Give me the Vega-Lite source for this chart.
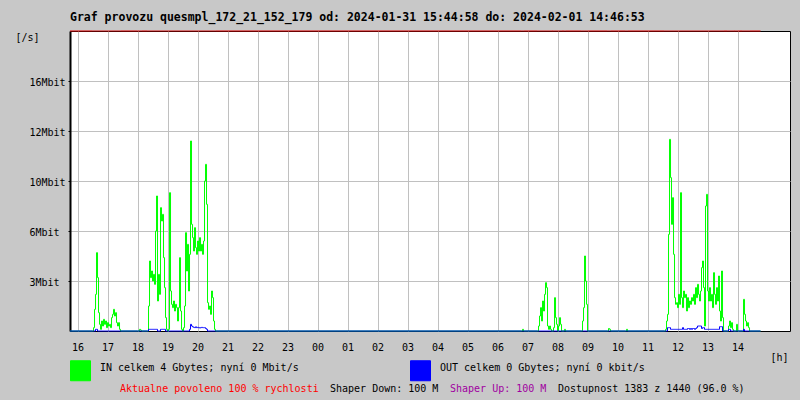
{
  "$schema": "https://vega.github.io/schema/vega-lite/v6.json",
  "width": 720,
  "height": 300,
  "autosize": "none",
  "padding": {"left": 70, "top": 31, "right": 10, "bottom": 69},
  "background": "#c8c8c8",
  "config": {"view": {"stroke": "black", "strokeWidth": 1, "fill": "white"}, "font": "DejaVu Sans Mono"},
  "title": {"text": "Graf provozu quesmpl_172_21_152_179 od: 2024-01-31 15:44:58 do: 2024-02-01 14:46:53", "anchor": "start", "frame": "group", "font": "DejaVu Sans Mono", "fontSize": 11.5, "fontWeight": "bold", "color": "black", "baseline": "alphabetic", "offset": 9, "dy": 12},
  "datasets": {
    "traffic": [
      {"t":"2024-01-31 15:45","IN":0,"OUT":0},
      {"t":"2024-01-31 16:30","IN":0,"OUT":0},
      {"t":"2024-01-31 16:32","IN":0.2,"OUT":0},
      {"t":"2024-01-31 16:34","IN":1.3,"OUT":0},
      {"t":"2024-01-31 16:36","IN":2.2,"OUT":0.1},
      {"t":"2024-01-31 16:38","IN":4.7,"OUT":0.1},
      {"t":"2024-01-31 16:40","IN":3.2,"OUT":0},
      {"t":"2024-01-31 16:42","IN":1.1,"OUT":0},
      {"t":"2024-01-31 16:44","IN":0.4,"OUT":0},
      {"t":"2024-01-31 16:46","IN":0.1,"OUT":0},
      {"t":"2024-01-31 16:48","IN":0.6,"OUT":0},
      {"t":"2024-01-31 16:50","IN":0.3,"OUT":0},
      {"t":"2024-01-31 16:52","IN":0.7,"OUT":0},
      {"t":"2024-01-31 16:54","IN":0.4,"OUT":0},
      {"t":"2024-01-31 16:56","IN":0.6,"OUT":0},
      {"t":"2024-01-31 16:58","IN":0.2,"OUT":0},
      {"t":"2024-01-31 17:00","IN":0.5,"OUT":0},
      {"t":"2024-01-31 17:02","IN":0.3,"OUT":0},
      {"t":"2024-01-31 17:04","IN":0.4,"OUT":0},
      {"t":"2024-01-31 17:06","IN":0.2,"OUT":0},
      {"t":"2024-01-31 17:08","IN":0.8,"OUT":0},
      {"t":"2024-01-31 17:10","IN":1.0,"OUT":0},
      {"t":"2024-01-31 17:12","IN":1.3,"OUT":0},
      {"t":"2024-01-31 17:14","IN":0.9,"OUT":0},
      {"t":"2024-01-31 17:16","IN":1.1,"OUT":0},
      {"t":"2024-01-31 17:18","IN":0.5,"OUT":0},
      {"t":"2024-01-31 17:20","IN":0.3,"OUT":0},
      {"t":"2024-01-31 17:22","IN":0.5,"OUT":0},
      {"t":"2024-01-31 17:24","IN":0.1,"OUT":0},
      {"t":"2024-01-31 17:26","IN":0,"OUT":0},
      {"t":"2024-01-31 18:00","IN":0,"OUT":0},
      {"t":"2024-01-31 18:04","IN":0.1,"OUT":0},
      {"t":"2024-01-31 18:06","IN":0.05,"OUT":0},
      {"t":"2024-01-31 18:08","IN":0,"OUT":0},
      {"t":"2024-01-31 18:20","IN":0,"OUT":0},
      {"t":"2024-01-31 18:22","IN":1.5,"OUT":0.1},
      {"t":"2024-01-31 18:24","IN":4.2,"OUT":0.1},
      {"t":"2024-01-31 18:26","IN":3.2,"OUT":0.1},
      {"t":"2024-01-31 18:28","IN":3.6,"OUT":0.1},
      {"t":"2024-01-31 18:30","IN":3.0,"OUT":0.1},
      {"t":"2024-01-31 18:32","IN":3.4,"OUT":0.1},
      {"t":"2024-01-31 18:34","IN":2.8,"OUT":0.1},
      {"t":"2024-01-31 18:36","IN":6.0,"OUT":0.1},
      {"t":"2024-01-31 18:38","IN":8.1,"OUT":0.1},
      {"t":"2024-01-31 18:40","IN":1.8,"OUT":0},
      {"t":"2024-01-31 18:42","IN":3.4,"OUT":0},
      {"t":"2024-01-31 18:44","IN":2.2,"OUT":0},
      {"t":"2024-01-31 18:46","IN":7.4,"OUT":0.1},
      {"t":"2024-01-31 18:48","IN":6.6,"OUT":0.1},
      {"t":"2024-01-31 18:50","IN":7.0,"OUT":0.1},
      {"t":"2024-01-31 18:52","IN":4.4,"OUT":0.1},
      {"t":"2024-01-31 18:54","IN":2.6,"OUT":0.1},
      {"t":"2024-01-31 18:56","IN":0.8,"OUT":0},
      {"t":"2024-01-31 18:58","IN":0.1,"OUT":0},
      {"t":"2024-01-31 19:00","IN":0,"OUT":0},
      {"t":"2024-01-31 19:02","IN":0.1,"OUT":0},
      {"t":"2024-01-31 19:04","IN":8.3,"OUT":0},
      {"t":"2024-01-31 19:06","IN":2.4,"OUT":0},
      {"t":"2024-01-31 19:08","IN":1.6,"OUT":0},
      {"t":"2024-01-31 19:10","IN":1.4,"OUT":0},
      {"t":"2024-01-31 19:12","IN":1.8,"OUT":0},
      {"t":"2024-01-31 19:14","IN":1.2,"OUT":0},
      {"t":"2024-01-31 19:16","IN":1.6,"OUT":0},
      {"t":"2024-01-31 19:18","IN":1.4,"OUT":0},
      {"t":"2024-01-31 19:20","IN":0.6,"OUT":0},
      {"t":"2024-01-31 19:22","IN":1.4,"OUT":0},
      {"t":"2024-01-31 19:24","IN":4.4,"OUT":0},
      {"t":"2024-01-31 19:26","IN":1.2,"OUT":0},
      {"t":"2024-01-31 19:28","IN":0.1,"OUT":0},
      {"t":"2024-01-31 19:30","IN":0,"OUT":0},
      {"t":"2024-01-31 19:32","IN":0.2,"OUT":0},
      {"t":"2024-01-31 19:34","IN":1.5,"OUT":0},
      {"t":"2024-01-31 19:36","IN":5.9,"OUT":0},
      {"t":"2024-01-31 19:38","IN":3.6,"OUT":0},
      {"t":"2024-01-31 19:40","IN":5.2,"OUT":0},
      {"t":"2024-01-31 19:42","IN":2.4,"OUT":0},
      {"t":"2024-01-31 19:44","IN":4.6,"OUT":0.1},
      {"t":"2024-01-31 19:46","IN":11.4,"OUT":0.4},
      {"t":"2024-01-31 19:48","IN":6.4,"OUT":0.3},
      {"t":"2024-01-31 19:50","IN":5.6,"OUT":0.25},
      {"t":"2024-01-31 19:52","IN":4.8,"OUT":0.22},
      {"t":"2024-01-31 19:54","IN":6.2,"OUT":0.2},
      {"t":"2024-01-31 19:56","IN":5.0,"OUT":0.25},
      {"t":"2024-01-31 19:58","IN":4.6,"OUT":0.2},
      {"t":"2024-01-31 20:00","IN":5.4,"OUT":0.22},
      {"t":"2024-01-31 20:02","IN":4.8,"OUT":0.2},
      {"t":"2024-01-31 20:04","IN":5.6,"OUT":0.18},
      {"t":"2024-01-31 20:06","IN":4.8,"OUT":0.2},
      {"t":"2024-01-31 20:08","IN":5.2,"OUT":0.22},
      {"t":"2024-01-31 20:10","IN":4.6,"OUT":0.2},
      {"t":"2024-01-31 20:12","IN":5.4,"OUT":0.2},
      {"t":"2024-01-31 20:14","IN":9.0,"OUT":0.2},
      {"t":"2024-01-31 20:16","IN":10.0,"OUT":0.15},
      {"t":"2024-01-31 20:18","IN":7.6,"OUT":0.1},
      {"t":"2024-01-31 20:20","IN":1.7,"OUT":0},
      {"t":"2024-01-31 20:22","IN":1.3,"OUT":0},
      {"t":"2024-01-31 20:24","IN":1.5,"OUT":0},
      {"t":"2024-01-31 20:26","IN":1.0,"OUT":0},
      {"t":"2024-01-31 20:28","IN":2.4,"OUT":0},
      {"t":"2024-01-31 20:30","IN":2.0,"OUT":0},
      {"t":"2024-01-31 20:32","IN":0.6,"OUT":0},
      {"t":"2024-01-31 20:34","IN":0.1,"OUT":0},
      {"t":"2024-01-31 20:36","IN":0,"OUT":0},
      {"t":"2024-02-01 06:48","IN":0,"OUT":0},
      {"t":"2024-02-01 06:50","IN":0.1,"OUT":0},
      {"t":"2024-02-01 06:52","IN":0,"OUT":0},
      {"t":"2024-02-01 07:20","IN":0,"OUT":0},
      {"t":"2024-02-01 07:22","IN":0.3,"OUT":0},
      {"t":"2024-02-01 07:24","IN":0.9,"OUT":0},
      {"t":"2024-02-01 07:26","IN":1.4,"OUT":0},
      {"t":"2024-02-01 07:28","IN":0.6,"OUT":0},
      {"t":"2024-02-01 07:30","IN":1.8,"OUT":0},
      {"t":"2024-02-01 07:32","IN":1.2,"OUT":0},
      {"t":"2024-02-01 07:34","IN":2.2,"OUT":0},
      {"t":"2024-02-01 07:36","IN":2.9,"OUT":0},
      {"t":"2024-02-01 07:38","IN":2.6,"OUT":0},
      {"t":"2024-02-01 07:40","IN":0.3,"OUT":0},
      {"t":"2024-02-01 07:42","IN":0.1,"OUT":0},
      {"t":"2024-02-01 07:44","IN":0.3,"OUT":0},
      {"t":"2024-02-01 07:46","IN":0.1,"OUT":0},
      {"t":"2024-02-01 07:48","IN":0,"OUT":0},
      {"t":"2024-02-01 07:52","IN":0.2,"OUT":0},
      {"t":"2024-02-01 07:54","IN":2.0,"OUT":0},
      {"t":"2024-02-01 07:56","IN":0.8,"OUT":0},
      {"t":"2024-02-01 07:58","IN":0.4,"OUT":0},
      {"t":"2024-02-01 08:00","IN":0,"OUT":0},
      {"t":"2024-02-01 08:02","IN":0.3,"OUT":0},
      {"t":"2024-02-01 08:04","IN":0.8,"OUT":0},
      {"t":"2024-02-01 08:06","IN":0.4,"OUT":0},
      {"t":"2024-02-01 08:08","IN":0,"OUT":0},
      {"t":"2024-02-01 08:14","IN":0.1,"OUT":0},
      {"t":"2024-02-01 08:16","IN":0,"OUT":0},
      {"t":"2024-02-01 08:48","IN":0,"OUT":0},
      {"t":"2024-02-01 08:50","IN":0.6,"OUT":0},
      {"t":"2024-02-01 08:52","IN":1.4,"OUT":0},
      {"t":"2024-02-01 08:54","IN":4.5,"OUT":0},
      {"t":"2024-02-01 08:56","IN":3.0,"OUT":0},
      {"t":"2024-02-01 08:58","IN":1.6,"OUT":0},
      {"t":"2024-02-01 09:00","IN":0,"OUT":0},
      {"t":"2024-02-01 09:40","IN":0,"OUT":0},
      {"t":"2024-02-01 09:42","IN":0.15,"OUT":0},
      {"t":"2024-02-01 09:44","IN":0.1,"OUT":0},
      {"t":"2024-02-01 09:46","IN":0,"OUT":0},
      {"t":"2024-02-01 10:16","IN":0,"OUT":0},
      {"t":"2024-02-01 10:18","IN":0.1,"OUT":0},
      {"t":"2024-02-01 10:20","IN":0,"OUT":0},
      {"t":"2024-02-01 11:34","IN":0,"OUT":0},
      {"t":"2024-02-01 11:36","IN":0.1,"OUT":0},
      {"t":"2024-02-01 11:38","IN":0.6,"OUT":0},
      {"t":"2024-02-01 11:40","IN":1.0,"OUT":0.2},
      {"t":"2024-02-01 11:42","IN":5.8,"OUT":0.2},
      {"t":"2024-02-01 11:44","IN":11.5,"OUT":0.2},
      {"t":"2024-02-01 11:46","IN":9.2,"OUT":0.1},
      {"t":"2024-02-01 11:48","IN":6.4,"OUT":0.1},
      {"t":"2024-02-01 11:50","IN":8.0,"OUT":0.1},
      {"t":"2024-02-01 11:52","IN":4.6,"OUT":0.1},
      {"t":"2024-02-01 11:54","IN":2.0,"OUT":0.1},
      {"t":"2024-02-01 11:56","IN":1.6,"OUT":0.1},
      {"t":"2024-02-01 11:58","IN":1.7,"OUT":0.1},
      {"t":"2024-02-01 12:00","IN":1.4,"OUT":0.1},
      {"t":"2024-02-01 12:02","IN":2.2,"OUT":0.1},
      {"t":"2024-02-01 12:04","IN":1.6,"OUT":0.1},
      {"t":"2024-02-01 12:06","IN":8.3,"OUT":0.1},
      {"t":"2024-02-01 12:08","IN":2.0,"OUT":0.1},
      {"t":"2024-02-01 12:10","IN":1.4,"OUT":0.2},
      {"t":"2024-02-01 12:12","IN":2.4,"OUT":0.1},
      {"t":"2024-02-01 12:14","IN":2.0,"OUT":0.1},
      {"t":"2024-02-01 12:16","IN":2.2,"OUT":0.1},
      {"t":"2024-02-01 12:18","IN":1.2,"OUT":0.1},
      {"t":"2024-02-01 12:20","IN":2.0,"OUT":0.15},
      {"t":"2024-02-01 12:22","IN":1.4,"OUT":0.15},
      {"t":"2024-02-01 12:24","IN":1.8,"OUT":0.1},
      {"t":"2024-02-01 12:26","IN":1.6,"OUT":0.15},
      {"t":"2024-02-01 12:28","IN":2.0,"OUT":0.1},
      {"t":"2024-02-01 12:30","IN":1.8,"OUT":0.15},
      {"t":"2024-02-01 12:32","IN":2.2,"OUT":0.15},
      {"t":"2024-02-01 12:34","IN":1.6,"OUT":0.1},
      {"t":"2024-02-01 12:36","IN":2.6,"OUT":0.15},
      {"t":"2024-02-01 12:38","IN":2.0,"OUT":0.2},
      {"t":"2024-02-01 12:40","IN":2.8,"OUT":0.3},
      {"t":"2024-02-01 12:42","IN":2.2,"OUT":0.3},
      {"t":"2024-02-01 12:44","IN":1.8,"OUT":0.3},
      {"t":"2024-02-01 12:46","IN":2.4,"OUT":0.3},
      {"t":"2024-02-01 12:48","IN":3.8,"OUT":0.15},
      {"t":"2024-02-01 12:50","IN":4.2,"OUT":0.2},
      {"t":"2024-02-01 12:52","IN":2.6,"OUT":0.2},
      {"t":"2024-02-01 12:54","IN":0.3,"OUT":0.1},
      {"t":"2024-02-01 12:56","IN":7.5,"OUT":0.1},
      {"t":"2024-02-01 12:58","IN":8.2,"OUT":0.1},
      {"t":"2024-02-01 13:00","IN":2.4,"OUT":0.1},
      {"t":"2024-02-01 13:02","IN":1.8,"OUT":0.1},
      {"t":"2024-02-01 13:04","IN":2.6,"OUT":0.1},
      {"t":"2024-02-01 13:06","IN":1.8,"OUT":0.1},
      {"t":"2024-02-01 13:08","IN":2.2,"OUT":0.1},
      {"t":"2024-02-01 13:10","IN":1.4,"OUT":0.1},
      {"t":"2024-02-01 13:12","IN":3.5,"OUT":0.1},
      {"t":"2024-02-01 13:14","IN":2.2,"OUT":0.1},
      {"t":"2024-02-01 13:16","IN":1.6,"OUT":0.1},
      {"t":"2024-02-01 13:18","IN":2.6,"OUT":0.1},
      {"t":"2024-02-01 13:20","IN":1.8,"OUT":0.1},
      {"t":"2024-02-01 13:22","IN":3.3,"OUT":0.1},
      {"t":"2024-02-01 13:24","IN":1.2,"OUT":0.26},
      {"t":"2024-02-01 13:26","IN":0.6,"OUT":0.26},
      {"t":"2024-02-01 13:28","IN":3.6,"OUT":0.26},
      {"t":"2024-02-01 13:30","IN":0.8,"OUT":0},
      {"t":"2024-02-01 13:32","IN":0,"OUT":0},
      {"t":"2024-02-01 13:40","IN":0,"OUT":0},
      {"t":"2024-02-01 13:42","IN":0.3,"OUT":0.1},
      {"t":"2024-02-01 13:44","IN":0.6,"OUT":0.1},
      {"t":"2024-02-01 13:46","IN":0.2,"OUT":0},
      {"t":"2024-02-01 13:48","IN":0.5,"OUT":0},
      {"t":"2024-02-01 13:50","IN":0.1,"OUT":0},
      {"t":"2024-02-01 13:52","IN":0,"OUT":0},
      {"t":"2024-02-01 13:56","IN":0,"OUT":0},
      {"t":"2024-02-01 13:58","IN":0.4,"OUT":0},
      {"t":"2024-02-01 14:00","IN":0,"OUT":0},
      {"t":"2024-02-01 14:10","IN":0,"OUT":0},
      {"t":"2024-02-01 14:12","IN":1.9,"OUT":0.1},
      {"t":"2024-02-01 14:14","IN":1.0,"OUT":0},
      {"t":"2024-02-01 14:16","IN":0.6,"OUT":0},
      {"t":"2024-02-01 14:18","IN":0.3,"OUT":0},
      {"t":"2024-02-01 14:20","IN":0.5,"OUT":0},
      {"t":"2024-02-01 14:22","IN":0.2,"OUT":0},
      {"t":"2024-02-01 14:24","IN":0,"OUT":0},
      {"t":"2024-02-01 14:46","IN":0,"OUT":0}
    ],
    "series": [{"s": "IN"}, {"s": "OUT"}],
    "notes": [
      {"note": "Aktualne povoleno 100 % rychlosti"},
      {"note": "Shaper Down: 100 M"},
      {"note": "Shaper Up: 100 M"},
      {"note": "Dostupnost 1383 z 1440 (96.0 %)"}
    ]
  },
  "layer": [
    {
      "data": {"name": "series"},
      "mark": {"type": "square", "size": 0, "strokeWidth": 0, "opacity": 1},
      "encoding": {
        "fill": {"field": "s", "type": "nominal",
          "scale": {"domain": ["IN", "OUT"], "range": ["#00ff00", "#0000ff"]},
          "legend": {"orient": "none", "legendX": 0, "legendY": 329, "direction": "horizontal", "title": null, "padding": 0,
            "symbolType": "square", "symbolSize": 400, "symbolStrokeColor": "black", "symbolStrokeWidth": 1, "symbolOpacity": 1,
            "labelFont": "DejaVu Sans Mono", "labelFontSize": 10, "labelColor": "black", "labelLimit": 400, "labelOffset": 9,
            "labelBaseline": "alphabetic", "columnPadding": 109,
            "labelExpr": "datum.label == 'IN' ? 'IN celkem 4 Gbytes; nyní 0 Mbit/s' : 'OUT celkem 0 Gbytes; nyní 0 kbit/s'"}
        }
      }
    },
    {
      "data": {"name": "notes"},
      "mark": {"type": "point", "size": 0, "strokeWidth": 0},
      "encoding": {
        "shape": {"field": "note", "type": "nominal",
          "scale": {"domain": ["Aktualne povoleno 100 % rychlosti", "Shaper Down: 100 M", "Shaper Up: 100 M", "Dostupnost 1383 z 1440 (96.0 %)"]},
          "legend": {"orient": "none", "legendX": 40, "legendY": 353, "direction": "horizontal", "title": null, "padding": 0,
            "symbolSize": 0, "symbolOpacity": 0, "symbolStrokeWidth": 0, "labelOffset": 0, "columnPadding": 1,
            "labelFont": "DejaVu Sans Mono", "labelFontSize": 10, "labelLimit": 400,
            "labelColor": {"expr": "datum.label == 'Aktualne povoleno 100 % rychlosti' ? '#ff0000' : datum.label == 'Shaper Up: 100 M' ? '#a000a0' : '#000000'"}}
        }
      }
    },
    {
      "data": {"name": "traffic"},
      "transform": [{"fold": ["IN", "OUT"], "as": ["key", "value"]}],
      "mark": {"type": "line", "interpolate": "step-after", "strokeWidth": 1},
      "encoding": {
        "x": {"field": "t", "type": "temporal",
          "scale": {"domain": [{"year": 2024, "month": 1, "date": 31, "hours": 15, "minutes": 44, "seconds": 58}, {"year": 2024, "month": 2, "date": 1, "hours": 15, "minutes": 44, "seconds": 58}]},
          "axis": {
            "tickCount": 40,
            "values": [
              {"year": 2024, "month": 1, "date": 31, "hours": 16}, {"year": 2024, "month": 1, "date": 31, "hours": 17},
              {"year": 2024, "month": 1, "date": 31, "hours": 18}, {"year": 2024, "month": 1, "date": 31, "hours": 19},
              {"year": 2024, "month": 1, "date": 31, "hours": 20}, {"year": 2024, "month": 1, "date": 31, "hours": 21},
              {"year": 2024, "month": 1, "date": 31, "hours": 22}, {"year": 2024, "month": 1, "date": 31, "hours": 23},
              {"year": 2024, "month": 2, "date": 1, "hours": 0}, {"year": 2024, "month": 2, "date": 1, "hours": 1},
              {"year": 2024, "month": 2, "date": 1, "hours": 2}, {"year": 2024, "month": 2, "date": 1, "hours": 3},
              {"year": 2024, "month": 2, "date": 1, "hours": 4}, {"year": 2024, "month": 2, "date": 1, "hours": 5},
              {"year": 2024, "month": 2, "date": 1, "hours": 6}, {"year": 2024, "month": 2, "date": 1, "hours": 7},
              {"year": 2024, "month": 2, "date": 1, "hours": 8}, {"year": 2024, "month": 2, "date": 1, "hours": 9},
              {"year": 2024, "month": 2, "date": 1, "hours": 10}, {"year": 2024, "month": 2, "date": 1, "hours": 11},
              {"year": 2024, "month": 2, "date": 1, "hours": 12}, {"year": 2024, "month": 2, "date": 1, "hours": 13},
              {"year": 2024, "month": 2, "date": 1, "hours": 14}
            ],
            "format": "%H", "labelFont": "DejaVu Sans Mono", "labelFontSize": 10, "labelColor": "black",
            "ticks": false, "tickSize": 0, "labelPadding": 16, "labelBaseline": "middle", "labelFlush": false, "labelOverlap": false,
            "domain": false, "grid": true, "gridColor": "#c0c0c0",
            "title": "[h]", "titleX": 700, "titleY": 26, "titleAlign": "left", "titleBaseline": "middle",
            "titleFont": "DejaVu Sans Mono", "titleFontSize": 10, "titleFontWeight": "normal", "titleColor": "black"
          }
        },
        "y": {"field": "value", "type": "quantitative",
          "scale": {"domain": [0, 18], "nice": false, "zero": true},
          "axis": {
            "values": [3, 6, 9, 12, 15],
            "labelExpr": "datum.value == 9 ? '10Mbit' : datum.value == 15 ? '16Mbit' : datum.value + 'Mbit'",
            "labelFont": "DejaVu Sans Mono", "labelFontSize": 10, "labelColor": "black",
            "labelAlign": "left", "labelPadding": 39, "labelBaseline": "middle", "labelOffset": 1,
            "tickSize": 2, "tickColor": "black", "domainColor": "black", "domainWidth": 2,
            "grid": true, "gridColor": "#c0c0c0",
            "title": "[/s]", "titleAngle": 0, "titleX": -55, "titleY": 6, "titleAlign": "left", "titleBaseline": "middle",
            "titleFont": "DejaVu Sans Mono", "titleFontSize": 10, "titleFontWeight": "normal", "titleColor": "black"
          }
        },
        "color": {"field": "key", "type": "nominal", "scale": {"domain": ["IN", "OUT"], "range": ["#00ff00", "#0000ff"]}, "legend": null}
      }
    },
    {
      "mark": {"type": "rule", "color": "black", "strokeWidth": 2},
      "encoding": {"y": {"datum": 0, "type": "quantitative"}}
    },
    {
      "data": {"name": "traffic"},
      "mark": {"type": "line", "color": "#e00000", "strokeWidth": 1},
      "encoding": {
        "x": {"field": "t", "type": "temporal"},
        "y": {"datum": 18, "type": "quantitative"}
      }
    }
  ]
}
